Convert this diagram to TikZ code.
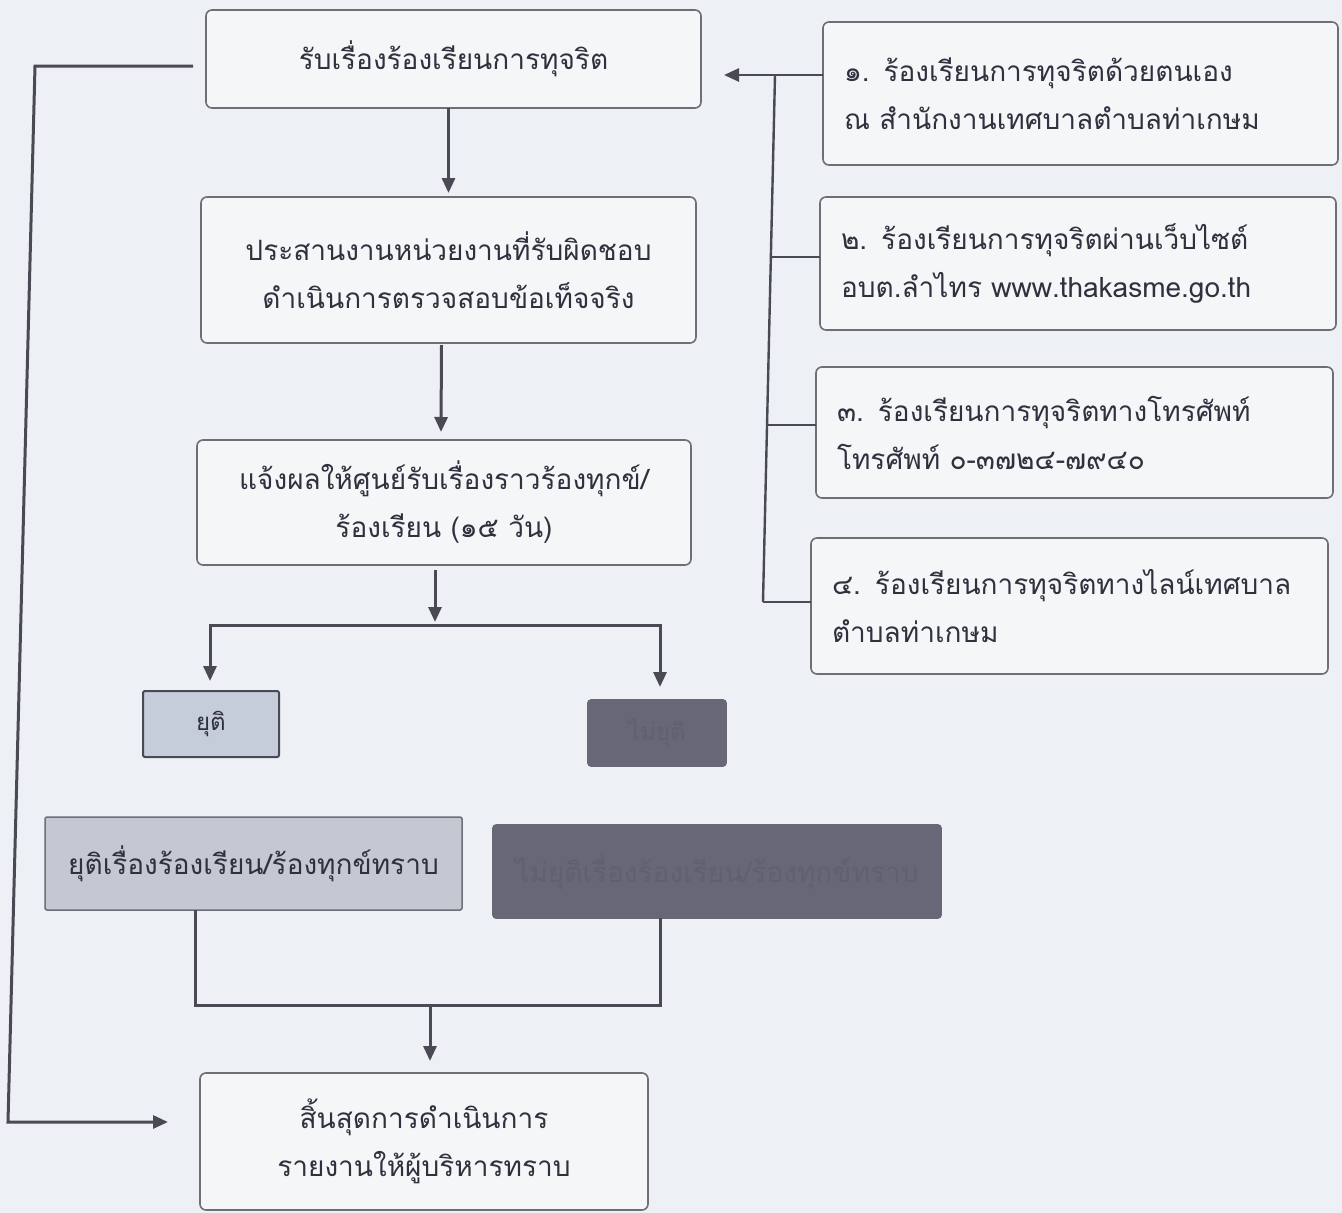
\documentclass[tikz,border=0pt]{standalone}
\usepackage{fontspec}
\newfontfamily\thaifont[Script=Thai]{Loma}
\usetikzlibrary{arrows.meta,calc}
\definecolor{paper}{HTML}{EDF0F4}
\definecolor{boxline}{HTML}{6E6E74}
\definecolor{txt}{HTML}{30303E}
\definecolor{conn}{HTML}{4A4A54}
\definecolor{lightfill}{HTML}{C6CDDA}
\definecolor{lightfillb}{HTML}{C4C8D3}
\definecolor{darkfill}{HTML}{686777}
\definecolor{darktxt}{HTML}{616070}
\tikzset{
  flowbox/.style={draw=boxline, line width=1.6pt, rounded corners=6pt, fill=paper!60!white,
    inner sep=0pt, outer sep=0pt, align=center, text=txt,
    font=\thaifont\fontsize{28}{48}\selectfont},
  sidebox/.style={flowbox, align=left, inner xsep=21pt},
  lightbox/.style={flowbox, fill=lightfill, draw=conn, line width=2pt, rounded corners=2pt},
  darkbox/.style={flowbox, fill=darkfill, draw=darkfill, rounded corners=3pt, text=darktxt},
  conline/.style={draw=conn, line width=3pt},
  conarrow/.style={conline, -{Triangle[length=15pt,width=13pt]}},
}
\begin{document}
\begin{tikzpicture}[x=1pt,y=-1pt]
\fill[paper] (0,0) rectangle (1342,1213);
\useasboundingbox (0,0) rectangle (1342,1213);

% main column
\node[flowbox, minimum width=495pt, minimum height=98pt] (A) at (453.5,59) {รับเรื่องร้องเรียนการทุจริต};
\node[flowbox, minimum width=495pt, minimum height=146pt] (B) at (448.5,270) {ประสานงานหน่วยงานที่รับผิดชอบ\\ดำเนินการตรวจสอบข้อเท็จจริง};
\node[flowbox, minimum width=494pt, minimum height=125pt] (C) at (444,502.5) {แจ้งผลให้ศูนย์รับเรื่องราวร้องทุกข์/\\ร้องเรียน (๑๕ วัน)};
\node[lightbox, minimum width=136pt, minimum height=66pt, font=\thaifont\fontsize{24}{30}\selectfont] (D) at (211,724) {ยุติ};
\node[darkbox, minimum width=138pt, minimum height=66pt, font=\thaifont\fontsize{24}{30}\selectfont] (E) at (657,733) {ไม่ยุติ};
\node[lightbox, fill=lightfillb, draw=boxline, line width=1.5pt, minimum width=417pt, minimum height=93pt] (G) at (253.5,863.5) {ยุติเรื่องร้องเรียน/ร้องทุกข์ทราบ};
\node[darkbox, minimum width=448pt, minimum height=93pt] (H) at (717,871.5) {ไม่ยุติเรื่องร้องเรียน/ร้องทุกข์ทราบ};
\node[flowbox, minimum width=448pt, minimum height=137pt] (F) at (424,1141.5) {สิ้นสุดการดำเนินการ\\รายงานให้ผู้บริหารทราบ};

% side column
\node[sidebox, minimum width=515pt, minimum height=143pt, text width=473pt] (R1) at (1080.5,93.5) {๑. ร้องเรียนการทุจริตด้วยตนเอง\\ณ สำนักงานเทศบาลตำบลท่าเกษม};
\node[sidebox, minimum width=516pt, minimum height=133pt, text width=474pt] (R2) at (1078,263.5) {๒. ร้องเรียนการทุจริตผ่านเว็บไซต์\\อบต.ลำไทร www.thakasme.go.th};
\node[sidebox, minimum width=517pt, minimum height=131pt, text width=475pt] (R3) at (1074.5,432.5) {๓. ร้องเรียนการทุจริตทางโทรศัพท์\\โทรศัพท์ ๐-๓๗๒๔-๗๙๔๐};
\node[sidebox, minimum width=517pt, minimum height=136pt, text width=475pt] (R4) at (1069.5,606) {๔. ร้องเรียนการทุจริตทางไลน์เทศบาล\\ตำบลท่าเกษม};

% main flow arrows
\draw[conarrow] ($(A.south)+(-5,0)$) -- ($(B.north)+(0,-4)$);
\draw[conarrow] ($(B.south)+(-7,2)$) -- ($(C.north)+(-3,-8)$);
\coordinate (split) at (435,625);
\draw[conarrow] ($(C.south)+(-9,5)$) -- ($(split)+(0,-3)$);
\draw[conarrow] (split) -| ($(D.north)+(-1,-10)$);
\draw[conarrow] (split) -| ($(E.north)+(3,-13)$);

% merge to end
\coordinate (merge) at (430,1005);
\draw[conline] ($(G.south)+(-58.5,0)$) |- (merge);
\draw[conline] (merge) -| ($(H.south)+(-57,0)$);
\draw[conarrow] (merge) -- ($(F.north)+(6,-12)$);

% feedback loop on the left
\coordinate (lt) at (35,66);
\coordinate (lb) at (8,1122);
\draw[conarrow] ($(A.west)+(-13,7)$) -- (lt) -- (lb) -- ($(F.west)+(-32,-19.5)$);

% side channels bus
\coordinate (bt) at (775,75);
\coordinate (bb) at (763,602);
\draw[conline, line width=2.4pt] (bt) -- (bb);
\draw[conarrow, line width=2.6pt] ($(R1.west)+(0,-18.5)$) -- ($(A.east)+(23,16)$);
\draw[conline, line width=2.4pt] ($(R2.west)+(0,-6.5)$) -- (772,257);
\draw[conline, line width=2.4pt] ($(R3.west)+(0,-7.5)$) -- (768,425);
\draw[conline, line width=2.4pt] ($(R4.west)+(0,-4)$) -- (bb);
\end{tikzpicture}
\end{document}
